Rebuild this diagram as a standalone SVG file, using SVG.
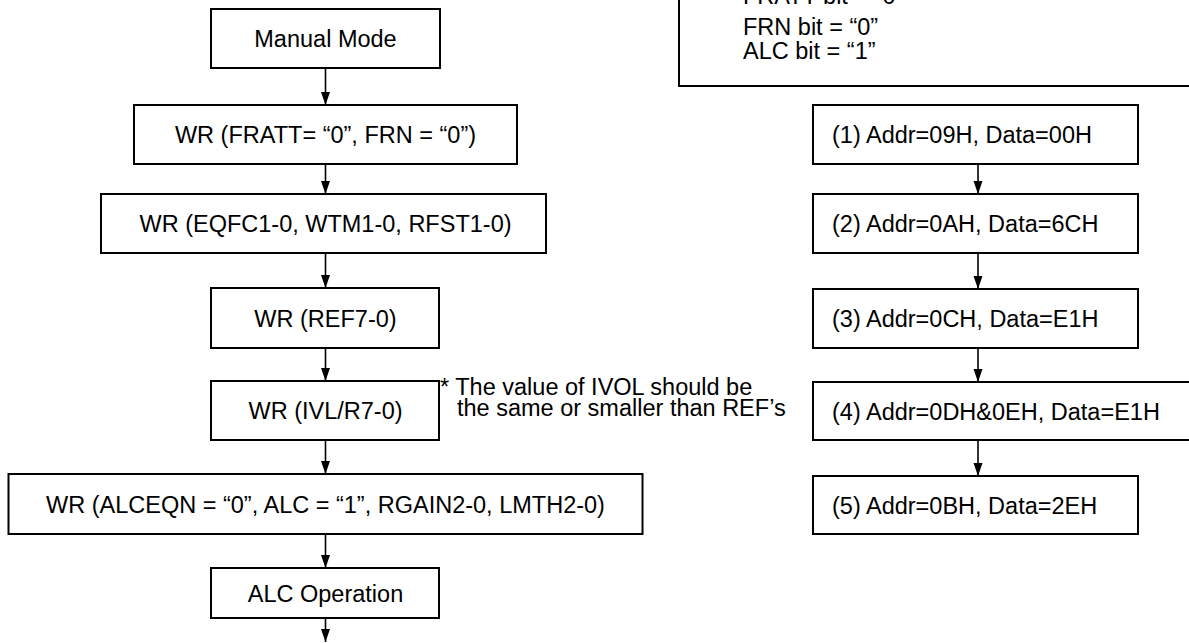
<svg xmlns="http://www.w3.org/2000/svg" width="1189" height="643" viewBox="0 0 1189 643">
<style>
.box{fill:#fff;stroke:#000;stroke-width:2}
.t{font-family:"Liberation Sans",Arial,sans-serif;font-size:23.5px;fill:#000}
.c{text-anchor:middle}
.ln{stroke:#000;stroke-width:1.6;fill:none}
</style>
<defs>
<marker id="ah" markerUnits="userSpaceOnUse" markerWidth="13" markerHeight="10" viewBox="0 0 13 10" refX="13" refY="5" orient="auto">
<path d="M0,0.5 L13,5 L0,9.5 Z" fill="#000"/>
</marker>
</defs>
<rect width="1189" height="643" fill="#fff"/>

<g id="note">
<rect class="box" x="679" y="-10" width="540" height="96"/>
<text class="t" x="743" y="4">FRATT bit = “0”</text>
<text class="t" x="743" y="34.5">FRN bit = “0”</text>
<text class="t" x="743" y="58.5">ALC bit = “1”</text>
</g>

<g id="manual">
<rect class="box" x="211" y="9" width="229" height="59"/>
<text class="t c" x="325.5" y="47">Manual Mode</text>
</g>
<g id="wr-fratt">
<rect class="box" x="134" y="105" width="383" height="59"/>
<text class="t c" x="325.5" y="143">WR (FRATT= “0”, FRN = “0”)</text>
</g>
<g id="wr-eqfc">
<rect class="box" x="101" y="194" width="445" height="59"/>
<text class="t c" x="325.5" y="232">WR (EQFC1-0, WTM1-0, RFST1-0)</text>
</g>
<g id="wr-ref">
<rect class="box" x="211" y="288" width="228" height="60"/>
<text class="t c" x="325.5" y="326.5">WR (REF7-0)</text>
</g>
<g id="wr-ivl">
<rect class="box" x="211" y="381" width="228" height="59"/>
<text class="t c" x="325.5" y="419">WR (IVL/R7-0)</text>
</g>
<g id="ivl-note">
<text class="t" x="440" y="395">* The value of IVOL should be</text>
<text class="t" x="457" y="416">the same or smaller than REF’s</text>
</g>
<g id="wr-alc">
<rect class="box" x="8.5" y="474" width="634" height="60"/>
<text class="t c" x="325.5" y="512.5">WR (ALCEQN = “0”, ALC = “1”, RGAIN2-0, LMTH2-0)</text>
</g>
<g id="alc-op">
<rect class="box" x="211" y="568" width="228" height="50"/>
<text class="t c" x="325.5" y="601.5">ALC Operation</text>
</g>

<g id="s1">
<rect class="box" x="813" y="105" width="325" height="59"/>
<text class="t" x="832" y="143">(1) Addr=09H, Data=00H</text>
</g>
<g id="s2">
<rect class="box" x="813" y="194" width="325" height="59"/>
<text class="t" x="832" y="232">(2) Addr=0AH, Data=6CH</text>
</g>
<g id="s3">
<rect class="box" x="813" y="289" width="325" height="59"/>
<text class="t" x="832" y="327">(3) Addr=0CH, Data=E1H</text>
</g>
<g id="s4">
<rect class="box" x="813" y="382" width="400" height="58"/>
<text class="t" x="832" y="419.5">(4) Addr=0DH&amp;0EH, Data=E1H</text>
</g>
<g id="s5">
<rect class="box" x="813" y="476" width="325" height="58"/>
<text class="t" x="832" y="513.5">(5) Addr=0BH, Data=2EH</text>
</g>

<g id="connectors">
<line class="ln" x1="325.5" y1="68" x2="325.5" y2="105" marker-end="url(#ah)"/>
<line class="ln" x1="325.5" y1="164" x2="325.5" y2="194" marker-end="url(#ah)"/>
<line class="ln" x1="325.5" y1="253" x2="325.5" y2="288" marker-end="url(#ah)"/>
<line class="ln" x1="325.5" y1="348" x2="325.5" y2="381" marker-end="url(#ah)"/>
<line class="ln" x1="325.5" y1="440" x2="325.5" y2="474" marker-end="url(#ah)"/>
<line class="ln" x1="325.5" y1="534" x2="325.5" y2="568" marker-end="url(#ah)"/>
<line class="ln" x1="325.5" y1="618" x2="325.5" y2="642" marker-end="url(#ah)"/>
<line class="ln" x1="978" y1="164" x2="978" y2="194" marker-end="url(#ah)"/>
<line class="ln" x1="978" y1="253" x2="978" y2="289" marker-end="url(#ah)"/>
<line class="ln" x1="978" y1="348" x2="978" y2="382" marker-end="url(#ah)"/>
<line class="ln" x1="978" y1="440" x2="978" y2="476" marker-end="url(#ah)"/>
</g>
</svg>
